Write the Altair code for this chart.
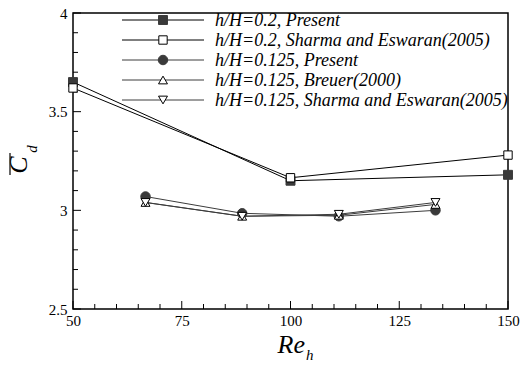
import altair as alt
import pandas as pd

# ---- data ----
re_02 = [50, 100, 150]
cd_02_present = [3.65, 3.15, 3.18]
cd_02_sharma = [3.62, 3.165, 3.28]
re_0125 = [66.67, 88.89, 111.11, 133.33]
cd_0125_present = [3.07, 2.985, 2.97, 3.00]
cd_0125_breuer = [3.04, 2.97, 2.975, 3.03]
cd_0125_sharma = [3.04, 2.97, 2.98, 3.04]

labels = [
    "h/H=0.2, Present",
    "h/H=0.2, Sharma and Eswaran(2005)",
    "h/H=0.125, Present",
    "h/H=0.125, Breuer(2000)",
    "h/H=0.125, Sharma and Eswaran(2005)",
]
x_major = [50, 75, 100, 125, 150]
y_major = [2.5, 3, 3.5, 4]
x_minor = [v for v in range(55, 150, 5) if v % 25 != 0]
y_minor = [2.6, 2.7, 2.8, 2.9, 3.1, 3.2, 3.3, 3.4, 3.6, 3.7, 3.8, 3.9]

W, H = 435, 296
FONT = "Liberation Serif"
FILLC = "#3a3a3a"

xs = alt.Scale(domain=[50, 150], nice=False, zero=False)
ys = alt.Scale(domain=[2.5, 4], nice=False, zero=False)

styles = [
    dict(x=re_02, y=cd_02_present, shape="square", fill=FILLC, stroke=FILLC, line="#000000", size=80),
    dict(x=re_02, y=cd_02_sharma, shape="square", fill="white", stroke="#000000", line="#000000", size=70),
    dict(x=re_0125, y=cd_0125_present, shape="circle", fill=FILLC, stroke=FILLC, line="#3c3c3c", size=90),
    dict(x=re_0125, y=cd_0125_breuer, shape="triangle-up", fill="white", stroke="#000000", line="#3c3c3c", size=80),
    dict(x=re_0125, y=cd_0125_sharma, shape="triangle-down", fill="white", stroke="#000000", line="#3c3c3c", size=80),
]

xaxis = alt.Axis(values=x_major, format="d", ticks=False, domain=False, grid=False,
                 labelFont=FONT, labelFontSize=15, labelPadding=4, labelColor="black",
                 labelFlush=False, labelOverlap=False, title=None)
yaxis = alt.Axis(values=y_major, format="~g", ticks=False, domain=False, grid=False,
                 labelFont=FONT, labelFontSize=15, labelPadding=6, labelColor="black",
                 labelFlush=False, labelOverlap=False, title=None)

def X(field):
    return alt.X(field, scale=xs, axis=xaxis)

def Y(field):
    return alt.Y(field, scale=ys, axis=yaxis)

layers = []

def xticks(vals, length):
    return alt.Chart(pd.DataFrame({"v": vals})).mark_rule(color="black", strokeWidth=1).encode(
        x=X("v:Q"), y=alt.value(H), y2=alt.value(H - length))

def yticks(vals, length):
    return alt.Chart(pd.DataFrame({"v": vals})).mark_rule(color="black", strokeWidth=1).encode(
        y=Y("v:Q"), x=alt.value(0), x2=alt.value(length))

layers += [xticks(x_major, 8), xticks(x_minor, 5), yticks(y_major, 8), yticks(y_minor, 5)]

for s in styles:
    df = pd.DataFrame({"x": s["x"], "y": s["y"]})
    layers.append(alt.Chart(df).mark_line(color=s["line"], strokeWidth=1).encode(
        x=X("x:Q"), y=Y("y:Q")))
for s in styles:
    df = pd.DataFrame({"x": s["x"], "y": s["y"]})
    layers.append(alt.Chart(df).mark_point(shape=s["shape"], filled=True, fill=s["fill"],
                                           stroke=s["stroke"], strokeWidth=1, size=s["size"],
                                           opacity=1).encode(
        x=X("x:Q"), y=Y("y:Q")))

dummy = pd.DataFrame({"a": [0]})
for i, (s, lab) in enumerate(zip(styles, labels)):
    ly = 7 + 20 * i
    layers.append(alt.Chart(dummy).mark_rule(color=s["line"], strokeWidth=1).encode(
        x=alt.value(49), x2=alt.value(131), y=alt.value(ly)))
    layers.append(alt.Chart(dummy).mark_point(shape=s["shape"], filled=True, fill=s["fill"],
                                              stroke=s["stroke"], strokeWidth=1, size=s["size"],
                                              opacity=1).encode(
        x=alt.value(90), y=alt.value(ly)))
    layers.append(alt.Chart(dummy).mark_text(text=lab, font=FONT, fontStyle="italic", fontSize=18,
                                             align="left", baseline="middle", color="black").encode(
        x=alt.value(142), y=alt.value(ly + 1)))

layers.append(alt.Chart(dummy).mark_text(text="Re", font=FONT, fontStyle="italic", fontSize=26,
                                         align="right", baseline="alphabetic", color="black").encode(
    x=alt.value(232), y=alt.value(340)))
layers.append(alt.Chart(dummy).mark_text(text="h", font=FONT, fontStyle="italic", fontSize=15,
                                         align="left", baseline="alphabetic", color="black").encode(
    x=alt.value(233), y=alt.value(347)))
layers.append(alt.Chart(dummy).mark_text(text="C", font=FONT, fontStyle="italic", fontSize=26,
                                         align="center", baseline="alphabetic", angle=270,
                                         color="black").encode(
    x=alt.value(-46), y=alt.value(152)))
layers.append(alt.Chart(dummy).mark_text(text="d", font=FONT, fontStyle="italic", fontSize=15,
                                         align="center", baseline="alphabetic", angle=270,
                                         color="black").encode(
    x=alt.value(-36), y=alt.value(136)))
layers.append(alt.Chart(dummy).mark_rule(color="black", strokeWidth=1.2).encode(
    x=alt.value(-63), y=alt.value(140), y2=alt.value(162)))

chart = alt.layer(*layers).properties(
    width=W, height=H,
    autosize=alt.AutoSizeParams(type="none"),
    padding={"left": 65, "top": 5, "right": 14, "bottom": 52},
).configure_view(stroke="black", strokeWidth=1.5)

chart.save("out.html", embed_options={"renderer": "svg", "actions": False})
